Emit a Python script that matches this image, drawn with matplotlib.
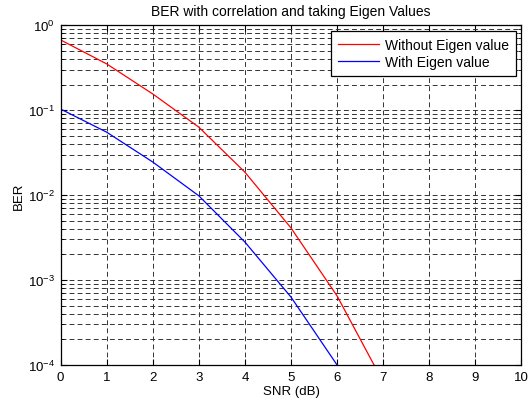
import matplotlib
matplotlib.use("Agg")
from matplotlib import pyplot as plt
from matplotlib.ticker import LogLocator, NullFormatter

# values
snr = [0, 1, 2, 3, 4, 5, 6, 7]
ber_no_eigen = [0.67, 0.35, 0.155, 0.063, 0.0186, 0.0041, 0.00065, 0.000063]
snr_eigen = [0, 1, 2, 3, 4, 5, 6]
ber_eigen = [0.103, 0.055, 0.0245, 0.0098, 0.0028, 0.00063, 0.0001]

plt.rcParams['font.family'] = ['Liberation Sans', 'DejaVu Sans']

fig = plt.figure(figsize=(5.31, 4.02), dpi=100)
ax = fig.add_axes([0.114, 0.0896, 0.868, 0.8454])

ax.semilogy(snr, ber_no_eigen, color='red', lw=0.9, label='Without Eigen value')
ax.semilogy(snr_eigen, ber_eigen, color='blue', lw=0.9, label='With Eigen value')

ax.set_xlim(0, 10)
ax.set_ylim(1e-4, 1)
ax.set_xticks(range(0, 11))
ax.yaxis.set_major_locator(LogLocator(base=10, numticks=10))
ax.yaxis.set_minor_locator(LogLocator(base=10, subs=range(2, 10), numticks=10))
ax.yaxis.set_minor_formatter(NullFormatter())

dash = (0, (5, 3.3))
ax.grid(which='major', color='0.2', linestyle=dash, lw=0.7)
ax.grid(which='minor', axis='y', color='0.2', linestyle=dash, lw=0.7)
ax.tick_params(which='both', direction='in', top=True, right=True, labelsize=9.5, pad=4)
ax.tick_params(which='major', length=4)
ax.tick_params(which='minor', length=2)
for s in ax.spines.values():
    s.set_linewidth(0.9)

ax.set_xlabel('SNR (dB)', fontsize=9.5, labelpad=2)
ax.set_ylabel('BER', fontsize=9.5, labelpad=2)
ax.set_title('BER with correlation and taking Eigen Values', fontsize=10, pad=7)

leg = ax.legend(loc='upper right', fontsize=10, fancybox=False, framealpha=1,
                edgecolor='black', borderaxespad=0.4, handlelength=3.0,
                handletextpad=0.4, borderpad=0.5, labelspacing=0.25)
leg.get_frame().set_linewidth(0.9)

fig.savefig('out.png', dpi=100)
